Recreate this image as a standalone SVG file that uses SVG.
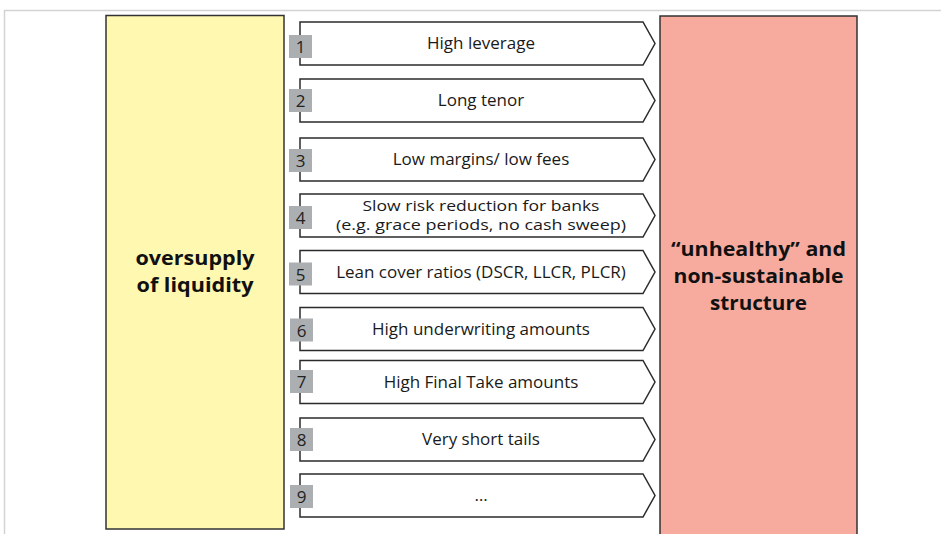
<svg xmlns="http://www.w3.org/2000/svg" width="941" height="534" viewBox="0 0 941 534">
<style>
.frame{fill:none;stroke:#d3d3d3;stroke-width:1.5}
.box{stroke:#333;stroke-width:1.5}
.arr{fill:#fff;stroke:#2b2b2b;stroke-width:1.5;stroke-linejoin:miter}
.badge{fill:#abafb2}
.num{font-family:"Open Sans","Noto Sans",sans-serif;font-size:17px;fill:#222;text-anchor:middle}
.lbl{font-family:"Open Sans","Noto Sans",sans-serif;font-size:17px;fill:#1a1a1a;text-anchor:middle}
.lbl2{font-family:"Open Sans","Noto Sans",sans-serif;font-size:14.2px;fill:#1a1a1a;text-anchor:middle}
.big{font-family:"Open Sans","Noto Sans",sans-serif;font-size:19.2px;font-weight:bold;fill:#111;text-anchor:middle}
</style>
<defs>
<path id="chev" d="M0,0 H343 L355,21.5 L343,43 H0 Z"/>
</defs>
<rect width="941" height="534" fill="#fff"/>
<path class="frame" d="M4.5,534 V10.5 H941"/>
<g id="left-box">
<rect class="box" x="106" y="15.5" width="178" height="513.5" fill="#fff8b0"/>
<text class="big" x="195" y="265" textLength="119" lengthAdjust="spacingAndGlyphs">oversupply</text>
<text class="big" x="195" y="291.5" textLength="117" lengthAdjust="spacingAndGlyphs">of liquidity</text>
</g>
<g id="right-box">
<rect class="box" x="660" y="16" width="197" height="530" fill="#f7ab9e"/>
<text class="big" x="758.5" y="256" textLength="175" lengthAdjust="spacingAndGlyphs">“unhealthy” and</text>
<text class="big" x="758.5" y="283" textLength="170" lengthAdjust="spacingAndGlyphs">non-sustainable</text>
<text class="big" x="758.5" y="310" textLength="97" lengthAdjust="spacingAndGlyphs">structure</text>
</g>
<g id="item1" transform="translate(300,22)">
<use href="#chev" class="arr"/><rect class="badge" x="-11" y="13" width="23" height="23"/><text class="num" x="0.5" y="31">1</text>
<text class="lbl" x="181" y="27">High leverage</text>
</g>
<g id="item2" transform="translate(300,79)">
<use href="#chev" class="arr"/><rect class="badge" x="-11" y="10" width="23" height="23"/><text class="num" x="0.5" y="28">2</text>
<text class="lbl" x="181" y="27">Long tenor</text>
</g>
<g id="item3" transform="translate(300,138)">
<use href="#chev" class="arr"/><rect class="badge" x="-11" y="11" width="23" height="23"/><text class="num" x="0.5" y="29">3</text>
<text class="lbl" x="181" y="27">Low margins/ low fees</text>
</g>
<g id="item4" transform="translate(300,194)">
<use href="#chev" class="arr"/><rect class="badge" x="-11" y="12" width="23" height="23"/><text class="num" x="0.5" y="30">4</text>
<text class="lbl2" x="181" y="16.5" textLength="237" lengthAdjust="spacingAndGlyphs">Slow risk reduction for banks</text>
<text class="lbl2" x="181" y="36" textLength="290" lengthAdjust="spacingAndGlyphs">(e.g. grace periods, no cash sweep)</text>
</g>
<g id="item5" transform="translate(300,250.5)">
<use href="#chev" class="arr"/><rect class="badge" x="-11" y="12" width="23" height="23"/><text class="num" x="0.5" y="30">5</text>
<text class="lbl" x="181" y="27">Lean cover ratios (DSCR, LLCR, PLCR)</text>
</g>
<g id="item6" transform="translate(301,307.5)">
<use href="#chev" class="arr" transform="translate(-1,0)"/><rect class="badge" x="-11" y="11" width="23" height="23"/><text class="num" x="0.5" y="29">6</text>
<text class="lbl" x="180" y="27">High underwriting amounts</text>
</g>
<g id="item7" transform="translate(301,360.5)">
<use href="#chev" class="arr" transform="translate(-1,0)"/><rect class="badge" x="-11" y="9.5" width="23" height="23"/><text class="num" x="0.5" y="27.5">7</text>
<text class="lbl" x="180" y="27">High Final Take amounts</text>
</g>
<g id="item8" transform="translate(301,418)">
<use href="#chev" class="arr" transform="translate(-1,0)"/><rect class="badge" x="-11" y="10" width="23" height="23"/><text class="num" x="0.5" y="28">8</text>
<text class="lbl" x="180" y="27">Very short tails</text>
</g>
<g id="item9" transform="translate(301,474)">
<use href="#chev" class="arr" transform="translate(-1,0)"/><rect class="badge" x="-11" y="11" width="23" height="23"/><text class="num" x="0.5" y="29">9</text>
<text class="lbl" x="180" y="27">…</text>
</g>
</svg>
